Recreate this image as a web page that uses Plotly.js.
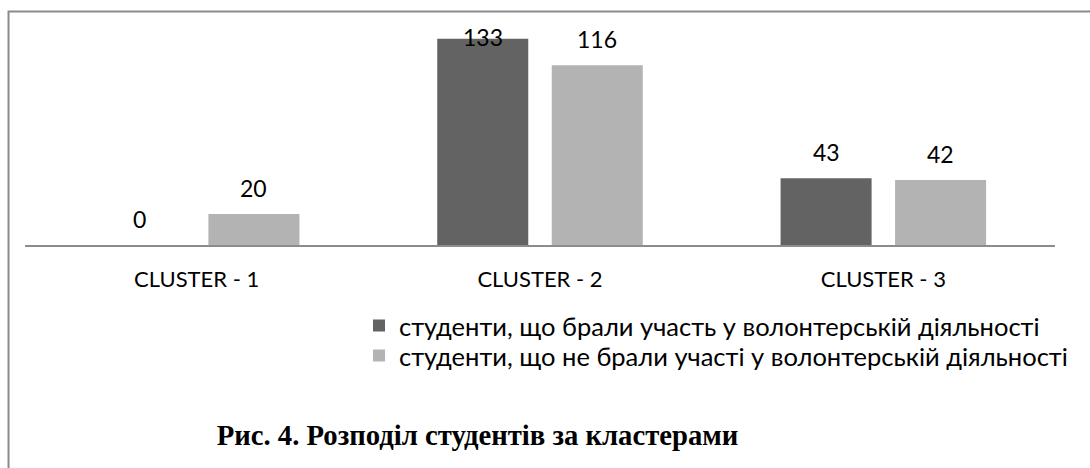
<!DOCTYPE html>
<html>
<head>
<meta charset="utf-8">
<script src="https://cdn.plot.ly/plotly-3.0.1.min.js"></script>
<style>
  html, body { margin: 0; padding: 0; background: #ffffff; }
  #chart { width: 1090px; height: 468px; }
</style>
</head>
<body>
<div id="chart"></div>
<script>
// ---- data ----
var categories = ["CLUSTER - 1", "CLUSTER - 2", "CLUSTER - 3"];
var volunteers = [0, 133, 43];
var nonVolunteers = [20, 116, 42];
var seriesNames = [
  "студенти, що брали участь у волонтерській діяльності",
  "студенти, що не брали участі у волонтерській діяльності"
];
var chartTitle = "Рис. 4. Розподіл студентів за кластерами";

// ---- style ----
var darkColor = "#636363";
var lightColor = "#b3b3b3";
var labelFont = "Lato, Roboto, sans-serif";
var bargap = 0.333;
var yMax = 140;

var traces = [
  { type: "bar", name: seriesNames[0], x: categories, y: volunteers, legend: "legend",
    marker: { color: darkColor, line: { width: 0 } }, hoverinfo: "x+y" },
  { type: "bar", name: seriesNames[1], x: categories, y: nonVolunteers, legend: "legend2",
    marker: { color: lightColor, line: { width: 0 } }, hoverinfo: "x+y" }
];

// data labels placed above each bar (offset by half a bar slot)
var slotOffset = (1 - bargap) / 4;
var annotations = [];
[volunteers, nonVolunteers].forEach(function (vals, s) {
  vals.forEach(function (v, i) {
    var a = {
      x: i + (s === 0 ? -slotOffset : slotOffset),
      y: v, xref: "x", yref: "y",
      text: String(v), showarrow: false,
      xanchor: "center", yanchor: "bottom", yshift: 10,
      font: { family: labelFont, size: 23, color: "#000000" }
    };
    if (v > yMax * 0.9) { a.y = yMax; a.yanchor = "top"; a.yshift = 7; }
    annotations.push(a);
  });
});

function legendBox(yPx) {
  return {
    xref: "container", yref: "container", x: 359 / 1090, y: 1 - yPx / 468,
    xanchor: "left", yanchor: "middle", orientation: "v",
    font: { family: labelFont, size: 25.5, color: "#000000" },
    bgcolor: "rgba(0,0,0,0)", borderwidth: 0, itemwidth: 30
  };
}

var layout = {
  width: 1090, height: 468,
  margin: { l: 25, r: 35, t: 28.4, b: 222.7, pad: 0, autoexpand: false },
  paper_bgcolor: "#ffffff", plot_bgcolor: "#ffffff",
  barmode: "group", bargap: bargap, bargroupgap: 0.205,
  title: {
    text: "<b>" + chartTitle + "</b>",
    font: { family: "Liberation Serif, Times New Roman, serif", size: 28.7, color: "#000000" },
    xref: "container", yref: "container", x: 0.4381, y: 0.07,
    xanchor: "center", yanchor: "middle"
  },
  xaxis: {
    type: "category", showline: true, linecolor: "#8c8c8c", linewidth: 1.5,
    showgrid: false, zeroline: false, ticks: "", ticklabelstandoff: 14,
    tickangle: 0, automargin: false,
    tickfont: { family: labelFont, size: 22, color: "#000000" }, fixedrange: true
  },
  yaxis: { range: [0, yMax], visible: false, showgrid: false, zeroline: false, fixedrange: true, automargin: false },
  showlegend: true,
  legend: legendBox(326),
  legend2: legendBox(356),
  annotations: annotations,
  shapes: [{
    type: "path", xref: "paper", yref: "paper",
    path: "M -0.016,-1.3 L -0.016,1.0756 L 1.1,1.0756",
    line: { color: "#8a8a8a", width: 2 }, layer: "above"
  }]
};

Plotly.newPlot("chart", traces, layout, { displayModeBar: false, staticPlot: true });
</script>
</body>
</html>
